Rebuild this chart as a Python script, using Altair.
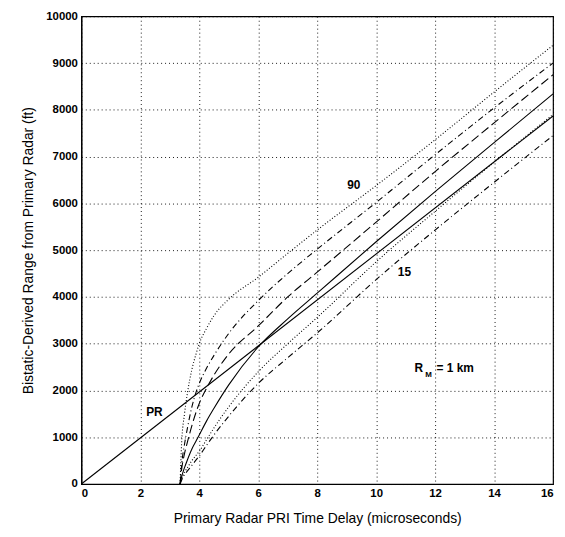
import altair as alt
import pandas as pd

# time delay (microseconds) sample points for the bistatic curves
t_pts = [3.35, 3.4, 3.5, 3.6, 3.75, 3.9, 4, 4.25, 4.5, 5, 6, 7, 8, 10, 12, 14, 16]

# bistatic-derived range (ft)
r90 = [0, 850, 1500, 1950, 2450, 2800, 3000, 3330, 3600, 3950, 4420, 4930, 5430, 6380, 7360, 8380, 9380]
r75 = [0, 400, 850, 1200, 1650, 1980, 2150, 2480, 2750, 3220, 3920, 4500, 5020, 6020, 7040, 8040, 9000]
r60 = [0, 300, 650, 900, 1250, 1550, 1720, 2050, 2330, 2780, 3380, 4000, 4530, 5600, 6680, 7720, 8750]
r45 = [0, 150, 350, 520, 750, 930, 1050, 1350, 1620, 2120, 2930, 3530, 4080, 5180, 6250, 7300, 8340]
r30 = [0, 100, 250, 350, 500, 620, 700, 950, 1200, 1650, 2400, 3000, 3560, 4750, 5830, 6880, 7900]
r15 = [0, 80, 200, 280, 400, 520, 600, 830, 1050, 1450, 2150, 2700, 3230, 4370, 5430, 6450, 7450]

# primary radar line
pr_t = [0, 16]
pr_r = [0, 7869]

x_ticks = list(range(0, 17, 2))
y_ticks = list(range(0, 10001, 1000))

series = [
    ("90", r90, [1, 2]),
    ("75", r75, [6, 3, 1, 3]),
    ("60", r60, [9, 4]),
    ("45", r45, []),
    ("30", r30, [1, 2]),
    ("15", r15, [6, 3, 1, 3]),
]

xs = alt.Scale(domain=[0, 16], nice=False)
ys = alt.Scale(domain=[0, 10000], nice=False)
x_axis = alt.Axis(values=x_ticks, title="Primary Radar PRI Time Delay (microseconds)", grid=True, format="d")
y_axis = alt.Axis(values=y_ticks, title="Bistatic-Derived Range from Primary Radar (ft)", grid=True, format="d")


def X():
    return alt.X("t:Q", scale=xs, axis=x_axis)


def Y():
    return alt.Y("r:Q", scale=ys, axis=y_axis)


layers = []
for name, vals, dash in series:
    df = pd.DataFrame({"t": t_pts, "r": vals, "angle": name})
    mk = dict(color="black", strokeWidth=1.1, interpolate="monotone", clip=True)
    if dash:
        mk["strokeDash"] = dash
    layers.append(alt.Chart(df).mark_line(**mk).encode(x=X(), y=Y()))

pr_df = pd.DataFrame({"t": pr_t, "r": pr_r})
layers.append(alt.Chart(pr_df).mark_line(color="black", strokeWidth=1.1).encode(x=X(), y=Y()))

# annotations
lab_txt = ["90", "15", "PR"]
lab_t = [9.24, 10.96, 2.48]
lab_r = [6385, 4530, 1537]
lab_df = pd.DataFrame({"t": lab_t, "r": lab_r, "txt": lab_txt})
layers.append(alt.Chart(lab_df).mark_text(font="Liberation Sans", fontSize=12, fontWeight="bold",
                                          color="black").encode(x=X(), y=Y(), text="txt:N"))

rm_df = pd.DataFrame({"t": [11.45], "r": [2488], "txt": ["R"]})
layers.append(alt.Chart(rm_df).mark_text(font="Liberation Sans", fontSize=12, fontWeight="bold",
                                         color="black").encode(x=X(), y=Y(), text="txt:N"))
sub_df = pd.DataFrame({"t": [11.78], "r": [2320], "txt": ["M"]})
layers.append(alt.Chart(sub_df).mark_text(font="Liberation Sans", fontSize=8, fontWeight="bold",
                                          color="black").encode(x=X(), y=Y(), text="txt:N"))
eq_df = pd.DataFrame({"t": [12.05], "r": [2488], "txt": ["= 1 km"]})
layers.append(alt.Chart(eq_df).mark_text(font="Liberation Sans", fontSize=12, fontWeight="bold",
                                         color="black", align="left").encode(x=X(), y=Y(), text="txt:N"))

chart = alt.layer(*layers).properties(
    width=476, height=472,
    autosize=alt.AutoSizeParams(type="none"),
    padding={"left": 74, "top": 6, "right": 4, "bottom": 40},
).configure_view(stroke="black", strokeWidth=1.2).configure_axis(
    domainColor="black", domainWidth=1.2, ticks=False, labelPadding=4,
    labelFont="Liberation Sans", labelFontSize=11.5, labelFontWeight="bold", labelColor="black",
    titleFont="Liberation Sans", titleFontSize=14, titleFontWeight="normal", titleColor="black",
    gridColor="black", gridDash=[1, 3], gridWidth=1, gridOpacity=0.9,
).configure_axisX(titlePadding=12).configure_axisY(titlePadding=10)

chart.save("out.html", embed_options={"renderer": "svg", "actions": False})
